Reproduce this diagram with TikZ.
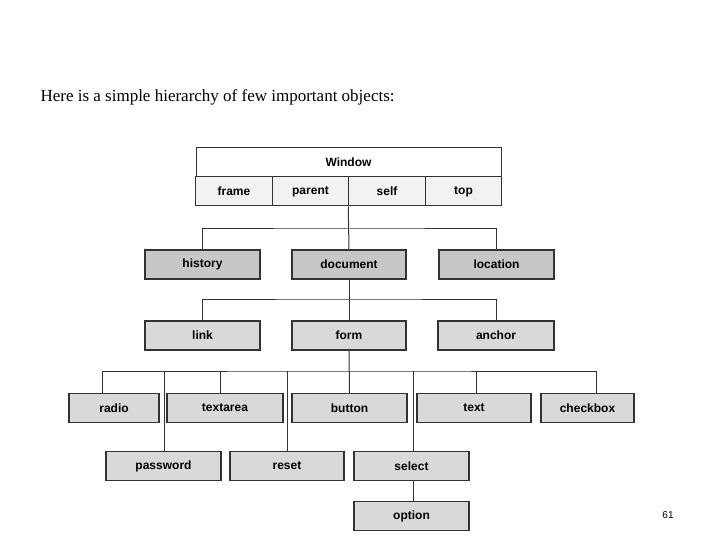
\documentclass[tikz,border=0pt]{standalone}
\usepackage{fontspec}
\setmainfont{Liberation Serif}
\newfontfamily\boxfont{Liberation Sans}
\usetikzlibrary{positioning}
\tikzset{
  objbox/.style={draw=black!80, line width=1.2pt, fill=black!15, minimum height=29pt, inner sep=0pt, font=\boxfont\bfseries\fontsize{12}{14}\selectfont},
  darkbox/.style={objbox, fill=black!22},
  cellbox/.style={draw=black!80, line width=1pt, fill=black!5, minimum height=29pt, minimum width=76.5pt, inner sep=0pt, font=\boxfont\bfseries\fontsize{12}{14}\selectfont},
  wire/.style={draw=black!80, line width=1pt}
}
\begin{document}
\begin{tikzpicture}[x=1pt, y=-1pt]
    \useasboundingbox (0,0) rectangle (720,540);
    \node (title) at (37,97) [anchor=west, font=\fontsize{17}{20}\selectfont] {Here is a simple hierarchy of few important objects:};
    \node (page) at (668,515) [font=\boxfont\fontsize{10}{12}\selectfont] {61};

    % window block
    \node (window) at (348.5,162.5) [cellbox, fill=white, minimum width=305pt] {Window};
    \node (frame) at (234,191.5) [cellbox] {frame};
    \node (parent) at (310.5,191.5) [cellbox] {parent};
    \node (self) at (387,191.5) [cellbox] {self};
    \node (top) at (463.5,191.5) [cellbox] {top};

    % second level
    \node (history) at (202.5,264.5) [darkbox, minimum width=115pt] {history};
    \node (document) at (349,264.5) [darkbox, minimum width=114pt] {document};
    \node (location) at (496.5,264.5) [darkbox, minimum width=115pt] {location};

    % third level
    \node (link) at (202.5,335.5) [objbox, minimum width=115pt] {link};
    \node (form) at (349,335.5) [objbox, minimum width=114pt] {form};
    \node (anchor) at (496,335.5) [objbox, minimum width=116pt] {anchor};

    % form elements
    \node (radio) at (114,408) [objbox, minimum width=90pt] {radio};
    \node (textarea) at (225,408) [objbox, minimum width=116pt] {textarea};
    \node (button) at (349.5,408) [objbox, minimum width=115pt] {button};
    \node (text) at (474,408) [objbox, minimum width=114pt] {text};
    \node (checkbox) at (587.5,408) [objbox, minimum width=93pt] {checkbox};
    \node (password) at (163.5,466) [objbox, minimum width=115pt] {password};
    \node (reset) at (287,466) [objbox, minimum width=114pt] {reset};
    \node (select) at (411.5,466) [objbox, minimum width=115pt] {select};
    \node (option) at (411.5,516) [objbox, minimum width=115pt] {option};

    \coordinate (busa) at (349,229);
    \coordinate (busb) at (349,299);
    \coordinate (busc) at (349,371);

    % connectors
    \draw [wire] (self.south west) -- (document.north);
    \draw [wire] (history.north) |- (busa) -| (location.north);
    \draw [wire] (document.south) -- (form.north);
    \draw [wire] (link.north) |- (busb) -| (anchor.north);
    \draw [wire] (form.south) -- (button.north);
    \draw [wire] (radio.north -| 102,0) |- (busc) -| (596,0 |- checkbox.north);
    \draw [wire] (164,371) -- (password.north -| 164,0);
    \draw [wire] (220,371) -- (textarea.north -| 220,0);
    \draw [wire] (287,371) -- (reset.north);
    \draw [wire] (413,371) -- (select.north -| 413,0);
    \draw [wire] (476,371) -- (text.north -| 476,0);
    \draw [wire] (select.south -| 413,0) -- (option.north -| 413,0);
\end{tikzpicture}
\end{document}
